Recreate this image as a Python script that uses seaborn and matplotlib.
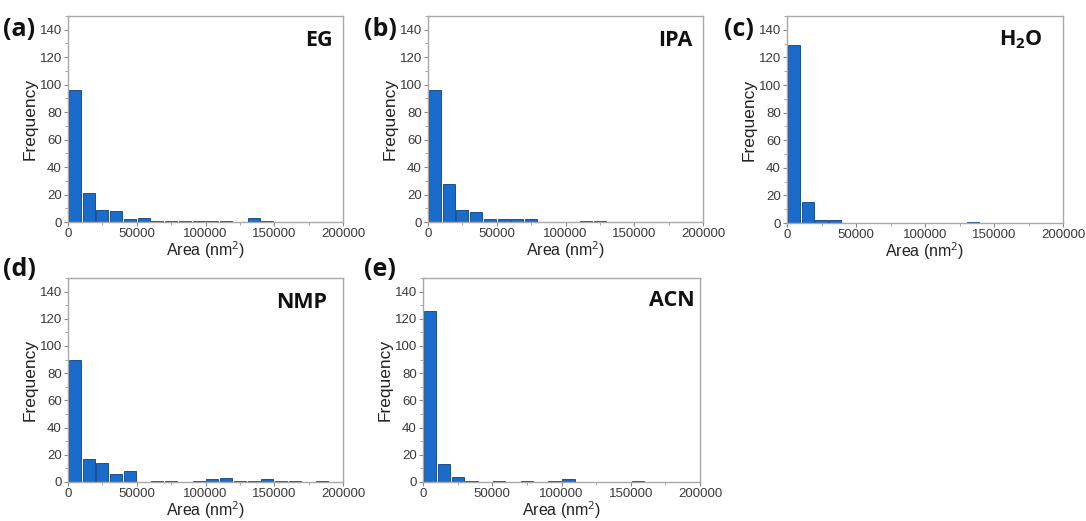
import numpy as np
import pandas as pd
import matplotlib
matplotlib.use("Agg")
import matplotlib.pyplot as plt
from matplotlib.ticker import MultipleLocator
import seaborn as sns

# Particle-area histograms, 10 000 nm^2 bins from 0 to 200 000 nm^2
bin_width = 10000
bin_centers = np.arange(5000, 200000, bin_width)

counts_eg = [96, 21, 9, 8, 2, 3, 1, 1, 1, 1, 1, 1, 0, 3, 1, 0, 0, 0, 0, 0]
counts_ipa = [96, 28, 9, 7, 2, 2, 2, 2, 0, 0, 0, 1, 1, 0, 0, 0, 0, 0, 0, 0]
counts_h2o = [129, 15, 2, 2, 0, 0, 0, 0, 0, 0, 0, 0, 0, 1, 0, 0, 0, 0, 0, 0]
counts_nmp = [90, 17, 14, 6, 8, 0, 1, 1, 0, 1, 2, 3, 1, 1, 2, 1, 1, 0, 1, 0]
counts_acn = [126, 13, 4, 1, 0, 1, 0, 1, 0, 1, 2, 0, 0, 0, 0, 1, 0, 0, 0, 0]

panel_tags = ["(a)", "(b)", "(c)", "(d)", "(e)"]
solvents = ["EG", "IPA", r"H$_\mathbf{2}$O", "NMP", "ACN"]
all_counts = [counts_eg, counts_ipa, counts_h2o, counts_nmp, counts_acn]

sns.set_theme(style="white")
plt.rcParams["font.family"] = ["Liberation Sans", "DejaVu Sans"]
plt.rcParams["mathtext.fontset"] = "custom"
plt.rcParams["mathtext.rm"] = "Open Sans"
plt.rcParams["mathtext.bf"] = "Open Sans:bold"

fig = plt.figure(figsize=(10.86, 5.21), dpi=100)

W, H = 1086, 521
# axes boxes in pixels: left, top, right, bottom
boxes = [
    (68, 16, 343, 222),
    (428, 16, 703, 222),
    (787, 16, 1063, 223),
    (68, 278, 343, 482),
    (423, 278, 700, 482),
]
tag_pos = [(3, 30), (364, 30), (724, 30), (3, 270), (364, 270)]
label_pos = [(333, 40), (693, 40), (1043, 40), (327, 302), (695, 300)]

bar_color = "#1a6ccc"
spine_color = "#a8a8a8"

for i, (counts, tag, solvent) in enumerate(zip(all_counts, panel_tags, solvents)):
    l, t, r, b = boxes[i]
    ax = fig.add_axes([l / W, 1 - b / H, (r - l) / W, (b - t) / H])
    df = pd.DataFrame({"area": bin_centers, "count": counts})
    sns.histplot(data=df, x="area", weights="count", binwidth=bin_width,
                 binrange=(0, 200000), shrink=0.88,
                 color=bar_color, alpha=1.0, edgecolor="#0d3f7a", linewidth=0.6,
                 ax=ax)
    ax.set_xlim(0, 200000)
    ax.set_ylim(0, 150)
    ax.set_xticks([0, 50000, 100000, 150000, 200000])
    ax.set_xticklabels(["0", "50000", "100000", "150000", "200000"])
    ax.set_yticks(range(0, 141, 20))
    ax.xaxis.set_minor_locator(MultipleLocator(25000))
    ax.yaxis.set_minor_locator(MultipleLocator(10))
    ax.tick_params(axis="both", which="major", direction="out", length=3,
                   width=0.8, color="#888888", labelsize=9.5, labelcolor="#3a3a3a",
                   pad=1.5, left=True, bottom=True)
    ax.tick_params(axis="both", which="minor", direction="out", length=2,
                   width=0.6, color="#999999", left=True, bottom=True)
    for sp in ax.spines.values():
        sp.set_color(spine_color)
        sp.set_linewidth(1.0)
    ax.set_xlabel(r"Area (nm$^2$)", fontsize=11.5, color="#222222", labelpad=-1)
    ax.set_ylabel("Frequency", fontsize=12.5, color="#222222", labelpad=1)

    tx, ty = tag_pos[i]
    fig.text(tx / W, 1 - ty / H, tag, fontsize=18, fontweight="bold",
             family="Open Sans", ha="left", va="center", color="#111111")
    lx, ly = label_pos[i]
    fig.text(lx / W, 1 - ly / H, solvent, fontsize=15.5, fontweight="bold",
             family="Open Sans", ha="right", va="center", color="#111111")

fig.savefig("out.png", dpi=100, facecolor="white")
